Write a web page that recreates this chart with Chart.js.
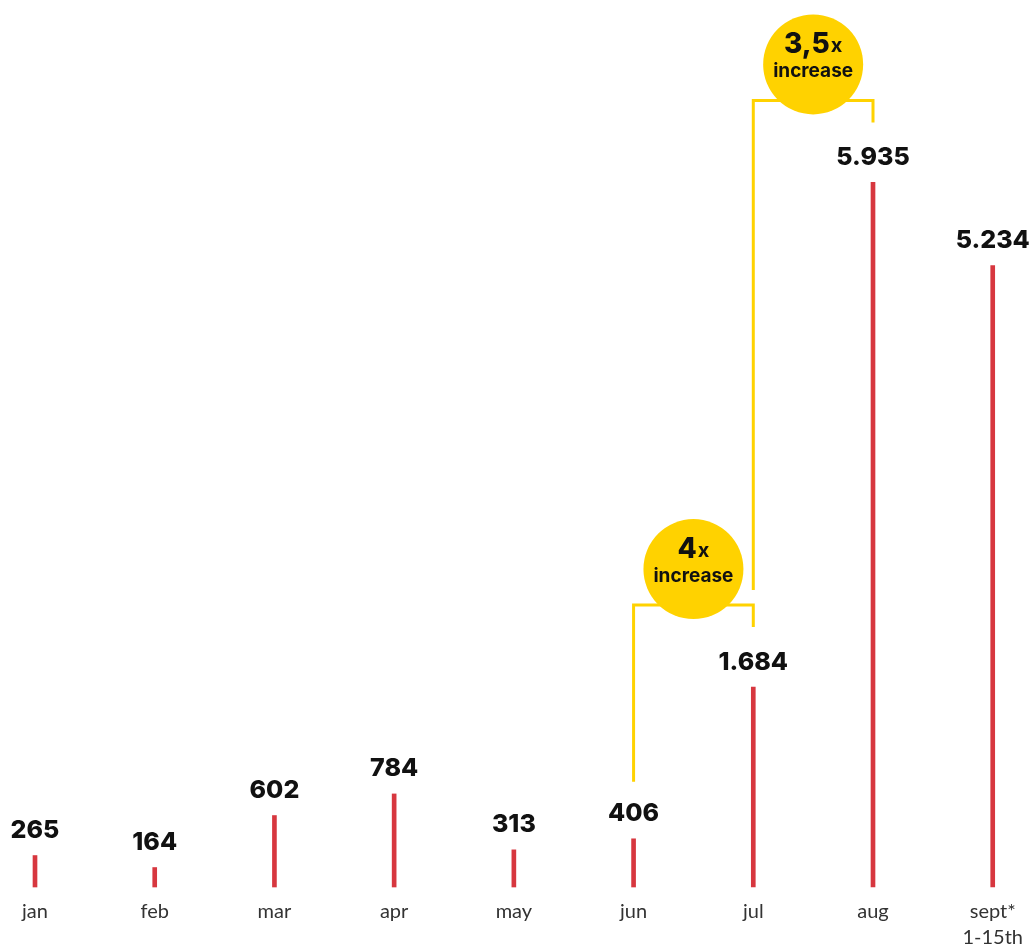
<!DOCTYPE html>
<html>
<head>
<meta charset="utf-8">
<script src="https://cdn.jsdelivr.net/npm/chart.js@4"></script>
<style>
  html, body { margin: 0; padding: 0; background: #fff; }
  #wrap { width: 1035px; height: 950px; }
</style>
</head>
<body>
<div id="wrap"><canvas id="chart"></canvas></div>
<script>
let months = ["jan", "feb", "mar", "apr", "may", "jun", "jul", "aug", ["sept*", "1-15th"]];
let counts = [265, 164, 602, 784, 313, 406, 1684, 5935, 5234];
// brackets between two months: [from index, to index, big text, small text]
let jumps = [[5, 6, "4", "x"], [6, 7, "3,5", "x"]];

let red = "#d7373f";
let yellow = "#ffd200";

function fmt(n) {
    return String(n).replace(/\B(?=(\d{3})+(?!\d))/g, ".");
}

// value labels above bars
let valueLabels = {
    id: "valueLabels",
    afterDatasetsDraw(chart) {
        let c = chart.ctx;
        let meta = chart.getDatasetMeta(0);
        c.save();
        c.fillStyle = "#111";
        c.font = "800 25px Inter";
        c.textAlign = "center";
        c.textBaseline = "middle";
        meta.data.forEach((bar, i) => {
            c.fillText(fmt(counts[i]), bar.x, bar.y - 25);
        });
        c.restore();
    }
};

// yellow brackets with circles
let jumpMarks = {
    id: "jumpMarks",
    afterDatasetsDraw(chart) {
        let c = chart.ctx;
        let meta = chart.getDatasetMeta(0);
        let prevTop = null;
        c.save();
        jumps.forEach(j => {
            let a = meta.data[j[0]], b = meta.data[j[1]];
            let top = b.y - 82;
            let leftStart = prevTop !== null ? prevTop - 15 : a.y - 57;
            let rightEnd = b.y - 60;
            c.strokeStyle = yellow;
            c.lineWidth = 3;
            c.beginPath();
            c.moveTo(a.x, leftStart);
            c.lineTo(a.x, top);
            c.lineTo(b.x, top);
            c.lineTo(b.x, rightEnd);
            c.stroke();

            let cx = (a.x + b.x) / 2, cy = top - 36;
            c.fillStyle = yellow;
            c.beginPath();
            c.arc(cx, cy, 50, 0, Math.PI * 2);
            c.fill();

            c.fillStyle = "#111";
            c.textBaseline = "middle";
            c.font = "800 28px Inter";
            let w1 = c.measureText(j[2]).width;
            c.font = "bold 20px Inter";
            let w2 = c.measureText(j[3]).width;
            let sx = cx - (w1 + w2 + 1) / 2;
            c.textAlign = "left";
            c.font = "800 28px Inter";
            c.fillText(j[2], sx, cy - 20);
            c.font = "bold 20px Inter";
            c.fillText(j[3], sx + w1 + 1, cy - 18);
            c.textAlign = "center";
            c.font = "bold 19px Inter";
            c.fillText("increase", cx, cy + 7);
            prevTop = top;
        });
        c.restore();
    }
};

new Chart(document.getElementById("chart"), {
    type: "bar",
    data: {
        labels: months,
        datasets: [{
            data: counts,
            backgroundColor: red,
            barThickness: 4,
            clip: false
        }]
    },
    options: {
        responsive: true,
        maintainAspectRatio: false,
        animation: false,
        layout: { padding: { top: 56, left: 35, right: 37, bottom: -13 } },
        plugins: {
            legend: { display: false },
            tooltip: { enabled: false }
        },
        scales: {
            x: {
                offset: false,
                grid: { display: false, drawTicks: false },
                border: { display: false },
                ticks: {
                    padding: 12,
                    color: "#333",
                    font: { family: "Lato", size: 20, weight: 400, lineHeight: 1.3 },
                    maxRotation: 0,
                    autoSkip: false
                }
            },
            y: {
                display: false,
                min: 0,
                max: 7000
            }
        }
    },
    plugins: [valueLabels, jumpMarks]
});
</script>
</body>
</html>
